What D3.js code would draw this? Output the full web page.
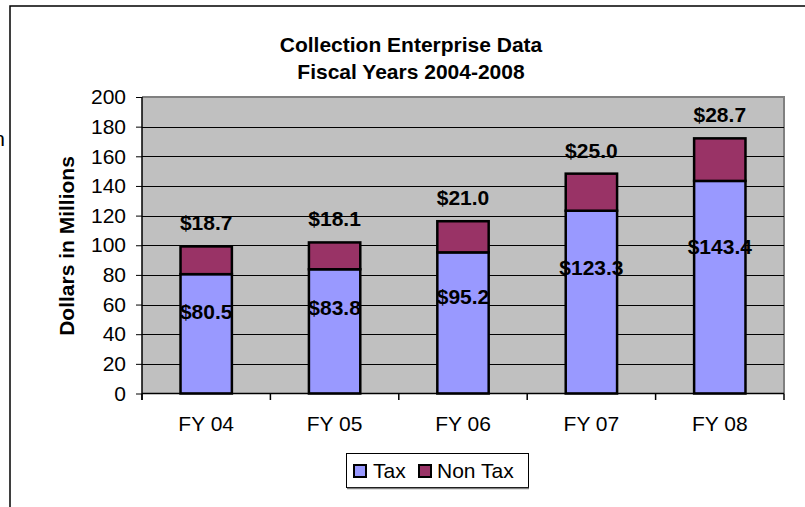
<!DOCTYPE html>
<html><head><meta charset="utf-8">
<script src="https://cdn.jsdelivr.net/npm/d3@7"></script>
<style>
html,body{margin:0;padding:0;background:#fff;}
svg text{font-family:"Liberation Sans",Arial,sans-serif;}
</style></head>
<body>
<svg id="chart" width="805" height="507"></svg>
<script>
const categories = ["FY 04","FY 05","FY 06","FY 07","FY 08"];
const taxValues = [80.5, 83.8, 95.2, 123.3, 143.4];
const nonTaxValues = [18.7, 18.1, 21.0, 25.0, 28.7];
const yTicks = [0,20,40,60,80,100,120,140,160,180,200];
const seriesNames = ["Tax","Non Tax"];
const colors = ["#9999FF","#993366"];

const svg = d3.select("#chart");
const L = 142, R = 784, T = 97, B = 393.5;
const FS = 21;

// outer frame
svg.append("path").attr("d","M10,507 L10,6 L805,6").attr("fill","none").attr("stroke","#000").attr("stroke-width",1.5);
// cut-off letter at left edge
svg.append("text").attr("x",5).attr("y",146).attr("text-anchor","end").attr("font-size",FS).text("n");

const x = d3.scaleBand().domain(categories).range([L,R]).paddingInner(0.6).paddingOuter(0.3);
const xb = d3.scaleLinear().domain([0,categories.length]).range([L,R]);
const y = d3.scaleLinear().domain([0,200]).range([B,T]);

// plot area
svg.append("rect").attr("x",L).attr("y",T).attr("width",R-L).attr("height",B-T).attr("fill","#C0C0C0");
svg.append("path").attr("d",`M${L},${T} L${R},${T} L${R},${B}`).attr("fill","none").attr("stroke","#808080").attr("stroke-width",2);

// gridlines
svg.append("g").selectAll("line").data(yTicks.filter(d=>d>0 && d<200)).join("line")
  .attr("x1",L).attr("x2",R).attr("y1",d=>Math.round(y(d))+0.5).attr("y2",d=>Math.round(y(d))+0.5)
  .attr("stroke","#000").attr("stroke-width",1);

// title
const title = svg.append("text").attr("text-anchor","middle").attr("font-weight","bold").attr("font-size",FS);
title.append("tspan").attr("x",411).attr("y",52).text("Collection Enterprise Data");
title.append("tspan").attr("x",411).attr("y",78.5).text("Fiscal Years 2004-2008");

// y axis
const yAxis = svg.append("g").attr("transform",`translate(${L},0)`)
  .call(d3.axisLeft(y).tickValues(yTicks).tickSize(6).tickPadding(10).tickFormat(d3.format("d")));
yAxis.select(".domain").remove();
yAxis.selectAll("line").attr("stroke","#000");
yAxis.selectAll("text").attr("font-size",FS).attr("fill","#000").attr("font-family","Liberation Sans, Arial, sans-serif");
svg.append("line").attr("x1",L).attr("x2",L).attr("y1",T).attr("y2",400).attr("stroke","#000").attr("stroke-width",1.5);

svg.append("text").attr("transform","translate(74,246) rotate(-90)").attr("text-anchor","middle")
  .attr("font-weight","bold").attr("font-size",FS).text("Dollars in Millions");

// bars
const stacked = categories.map((c,i)=>({c, tax:taxValues[i], non:nonTaxValues[i]}));
const g = svg.append("g");
g.selectAll("rect.tax").data(stacked).join("rect").attr("class","tax")
  .attr("x",d=>x(d.c)).attr("width",x.bandwidth())
  .attr("y",d=>y(d.tax)).attr("height",d=>y(0)-y(d.tax))
  .attr("fill",colors[0]).attr("stroke","#000").attr("stroke-width",2.5);
g.selectAll("rect.non").data(stacked).join("rect").attr("class","non")
  .attr("x",d=>x(d.c)).attr("width",x.bandwidth())
  .attr("y",d=>y(d.tax+d.non)).attr("height",d=>y(d.tax)-y(d.tax+d.non))
  .attr("fill",colors[1]).attr("stroke","#000").attr("stroke-width",2.5);

// x axis
svg.append("line").attr("x1",L).attr("x2",R).attr("y1",B).attr("y2",B).attr("stroke","#000").attr("stroke-width",1.5);
svg.append("g").selectAll("line").data(d3.range(categories.length+1)).join("line")
  .attr("x1",d=>xb(d)).attr("x2",d=>xb(d)).attr("y1",B).attr("y2",400).attr("stroke","#000").attr("stroke-width",1.5);
const xAxis = svg.append("g").attr("transform",`translate(0,${B})`)
  .call(d3.axisBottom(x).tickSize(0).tickPadding(0));
xAxis.select(".domain").remove();
xAxis.selectAll("text").attr("font-size",FS).attr("fill","#000").attr("dy",null).attr("y",37.5)
  .attr("font-family","Liberation Sans, Arial, sans-serif");

// labels
const fmt = d=>"$"+d3.format(".1f")(d);
g.selectAll("text.taxl").data(stacked).join("text").attr("class","taxl")
  .attr("x",d=>x(d.c)+x.bandwidth()/2).attr("y",d=>y(d.tax*0.69)+7.5)
  .attr("text-anchor","middle").attr("font-weight","bold").attr("font-size",FS).text(d=>fmt(d.tax));
g.selectAll("text.nonl").data(stacked).join("text").attr("class","nonl")
  .attr("x",d=>x(d.c)+x.bandwidth()/2).attr("y",d=>y(d.tax+d.non)-16)
  .attr("text-anchor","middle").attr("font-weight","bold").attr("font-size",FS).text(d=>fmt(d.non));

// legend
const lg = svg.append("g");
lg.append("rect").attr("x",346.5).attr("y",453.5).attr("width",182).attr("height",34).attr("fill","#fff").attr("stroke","#000").attr("stroke-width",1);
lg.append("line").attr("x1",347).attr("x2",529).attr("y1",488.5).attr("y2",488.5).attr("stroke","#808080").attr("stroke-width",1.5);
const items = [{n:seriesNames[0],c:colors[0],sx:353,tx:373},{n:seriesNames[1],c:colors[1],sx:418,tx:437}];
lg.selectAll("rect.sw").data(items).join("rect").attr("class","sw")
  .attr("x",d=>d.sx+1).attr("y",465).attr("width",12).attr("height",12)
  .attr("fill",d=>d.c).attr("stroke","#000").attr("stroke-width",2);
lg.selectAll("text").data(items).join("text").attr("x",d=>d.tx).attr("y",478)
  .attr("font-size",FS).text(d=>d.n);
</script>
</body></html>
